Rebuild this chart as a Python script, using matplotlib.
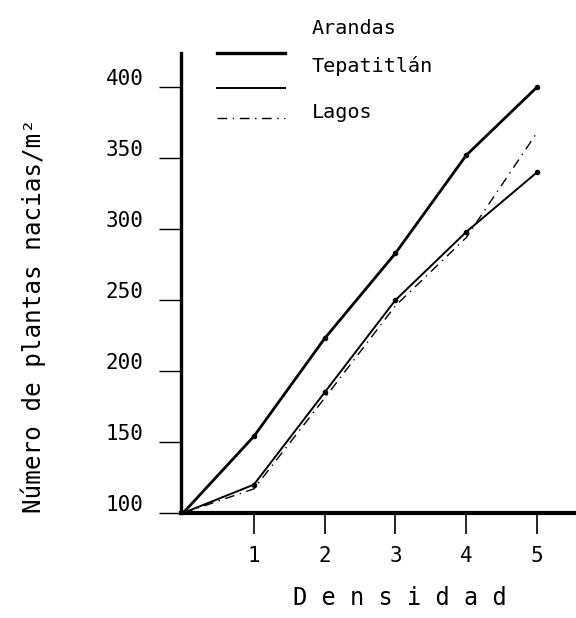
import matplotlib.pyplot as plt
import matplotlib.transforms as mtransforms
from matplotlib.lines import Line2D

# Plants emerged per m2 at each seeding density, three localities
densidad = [0, 1, 2, 3, 4, 5]
arandas = [100, 154, 223, 283, 352, 400]
tepatitlan = [100, 120, 185, 250, 298, 340]
lagos = [100, 117, 181, 246, 294, 368]

xticks = [1, 2, 3, 4, 5]
yticks = [100, 150, 200, 250, 300, 350, 400]

font = 'DejaVu Sans Mono'
plt.rcParams['font.family'] = font

fig = plt.figure(figsize=(5.76, 6.18), dpi=100)
ax = fig.add_axes([181 / 576, 1 - 513 / 618, (576 - 181) / 576, (513 - 53) / 618])

ax.plot(densidad, arandas, color='black', lw=2.0, marker='o', ms=3)
ax.plot(densidad, tepatitlan, color='black', lw=1.4, marker='o', ms=3)
ax.plot(densidad, lagos, color='black', lw=1.0, dashes=(7, 4, 1, 4))

ax.set_xlim(-0.03, 5.55)
ax.set_ylim(100, 424)

for side in ['top', 'right']:
    ax.spines[side].set_visible(False)
ax.spines['left'].set_linewidth(2.4)
ax.spines['bottom'].set_linewidth(3.0)

ax.set_xticks(xticks)
ax.set_yticks(yticks)
ax.tick_params(axis='x', direction='out', length=15, width=1.2, pad=9, labelsize=15)
ax.tick_params(axis='y', direction='out', length=16, width=1.0, pad=11, labelsize=15)

# typewritten y labels sit a bit above their ticks
shift = mtransforms.ScaledTranslation(0, 10 / 100, fig.dpi_scale_trans)
for lab in ax.get_yticklabels():
    lab.set_transform(lab.get_transform() + shift)

ax.set_xlabel('D e n s i d a d', fontsize=17)
ax.xaxis.set_label_coords(0.554, -0.185)
ax.xaxis.label.set_va('center')
ax.set_ylabel('Número de plantas nacias/m²', fontsize=17.5)
ax.yaxis.set_label_coords(-0.375, 0.43)
ax.yaxis.label.set_va('center')

# hand-drawn key above the plot
def px(x, y):
    return x / 576, 1 - y / 618

key = [(53, 2.4, None), (88, 1.4, None), (118, 1.0, (7, 4, 1, 4))]
for y, lw, dash in key:
    (x0, y0), (x1, _) = px(217, y), px(285, y)
    ln = Line2D([x0, x1], [y0, y0], transform=fig.transFigure, color='black', lw=lw)
    if dash:
        ln.set_dashes(dash)
    fig.add_artist(ln)

for name, y in [('Arandas', 28), ('Tepatitlán', 66), ('Lagos', 113)]:
    fx, fy = px(312, y)
    fig.text(fx, fy, name, fontsize=14.5, va='center', ha='left')

fig.savefig('out.png', dpi=100)
